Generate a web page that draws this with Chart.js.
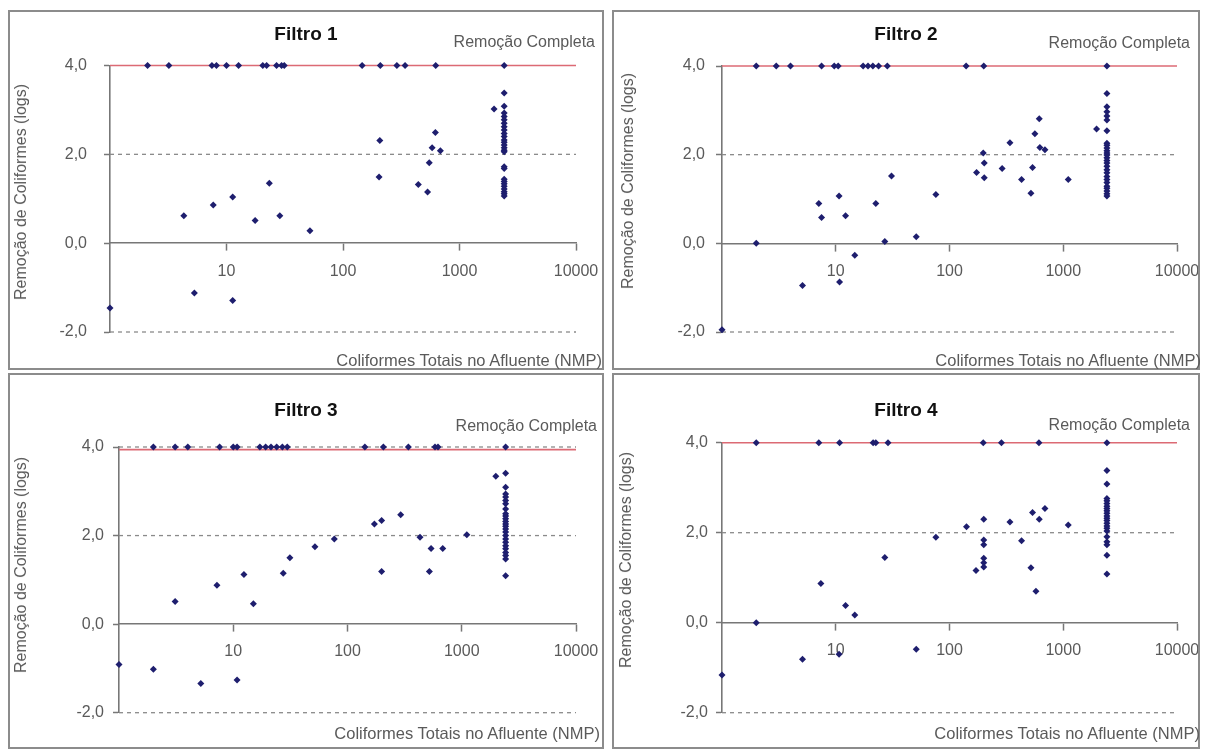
<!DOCTYPE html>
<html><head><meta charset="utf-8">
<script src="https://cdn.jsdelivr.net/npm/chart.js@4.4.0/dist/chart.umd.min.js"></script>
<style>
html,body{margin:0;padding:0;background:#fff;width:1205px;height:752px;overflow:hidden;}
.panel{position:absolute;border:2px solid #8c8c8c;box-sizing:content-box;}
.panel canvas{position:absolute;left:0;top:0;}
.t{position:absolute;font-family:'Liberation Sans',Arial,sans-serif;white-space:nowrap;line-height:1;}
.ttl{font-weight:bold;font-size:19px;color:#111;left:0;right:0;text-align:center;}
.rc{font-size:16px;color:#5a5a5a;}
.xt{font-size:16.5px;color:#5a5a5a;}
.yt{font-size:16px;color:#5a5a5a;transform:translate(-50%,-50%) rotate(-90deg);}
</style></head>
<body>
<div class="panel" style="left:8px;top:10px;width:592px;height:356px">
  <canvas id="c1" width="592" height="356"></canvas>
  <div class="t ttl" style="top:12px">Filtro 1</div>
  <div class="t rc" style="top:22px;right:7px">Remoção Completa</div>
  <div class="t xt" style="top:340px;right:0px">Coliformes Totais no Afluente (NMP)</div>
  <div class="t yt" style="left:11px;top:180px">Remoção de Coliformes (logs)</div>
</div>
<div class="panel" style="left:612px;top:10px;width:584px;height:356px">
  <canvas id="c2" width="584" height="356"></canvas>
  <div class="t ttl" style="top:12px">Filtro 2</div>
  <div class="t rc" style="top:23px;right:8px">Remoção Completa</div>
  <div class="t xt" style="top:340px;right:-3px">Coliformes Totais no Afluente (NMP)</div>
  <div class="t yt" style="left:14px;top:169px">Remoção de Coliformes (logs)</div>
</div>
<div class="panel" style="left:8px;top:373px;width:592px;height:372px">
  <canvas id="c3" width="592" height="372"></canvas>
  <div class="t ttl" style="top:25px">Filtro 3</div>
  <div class="t rc" style="top:43px;right:5px">Remoção Completa</div>
  <div class="t xt" style="top:350px;right:2px">Coliformes Totais no Afluente (NMP)</div>
  <div class="t yt" style="left:11px;top:190px">Remoção de Coliformes (logs)</div>
</div>
<div class="panel" style="left:612px;top:373px;width:584px;height:372px">
  <canvas id="c4" width="584" height="372"></canvas>
  <div class="t ttl" style="top:25px">Filtro 4</div>
  <div class="t rc" style="top:42px;right:8px">Remoção Completa</div>
  <div class="t xt" style="top:350px;right:-2px">Coliformes Totais no Afluente (NMP)</div>
  <div class="t yt" style="left:12px;top:185px">Remoção de Coliformes (logs)</div>
</div>
<script>
// ---- Data (NMP afluente vs log removal) ----
const X_TICKS = [10, 100, 1000, 10000];
const Y_TICKS = [-2, 0, 2, 4];
const X_MIN = 1, X_MAX = 10000;

const f1X = [2.1,3.2,7.5,8.2,10,12.7,20.5,22.1,26.9,29.7,31.3,146,209,290,341,625,2420,
  1,4.3,5.3,7.7,11.3,11.3,17.6,23.3,28.7,52,207,204,443,532,550,582,621,685,1980,
  2420,2420,2420,2420,2420,2420,2420,2420,2420,2420,2420,2420,2420,2420,2420,2420,2420,2420,2420,2420,2420,2420,2420,2420,2420,2420];
const f1Y = [4,4,4,4,4,4,4,4,4,4,4,4,4,4,4,4,4,
  -1.46,0.62,-1.12,0.86,1.04,-1.29,0.51,1.35,0.62,0.28,2.31,1.49,1.32,1.15,1.81,2.15,2.49,2.08,3.02,
  3.38,3.08,2.93,2.85,2.78,2.70,2.62,2.55,2.47,2.40,2.32,2.27,2.21,2.15,2.09,2.06,1.72,1.68,1.44,1.39,1.34,1.28,1.22,1.16,1.11,1.06];

const f2X = [2,3,4,7.5,9.7,10.5,17.4,19.2,21.2,23.8,28.4,140,200,2420,
  1,2,5.1,7.1,7.5,10.7,10.8,12.2,14.7,22.5,27,30.9,51,75.9,173,198,202,202,290,340,430,520,537,563,615,623,690,1107,1963,
  2420,2420,2420,2420,2420,2420,2420,2420,2420,2420,2420,2420,2420,2420,2420,2420,2420,2420,2420,2420,2420,2420,2420,2420,2420,2420];
const f2Y = [4,4,4,4,4,4,4,4,4,4,4,4,4,4,
  -1.95,0,-0.95,0.90,0.58,1.07,-0.87,0.62,-0.27,0.90,0.04,1.52,0.15,1.10,1.60,2.04,1.81,1.48,1.69,2.27,1.44,1.13,1.71,2.47,2.81,2.16,2.11,1.44,2.58,
  3.38,3.08,2.97,2.87,2.78,2.54,2.26,2.21,2.15,2.09,2.04,1.99,1.93,1.87,1.81,1.74,1.66,1.59,1.51,1.44,1.37,1.29,1.24,1.18,1.12,1.07];

const f3X = [2,3.1,4,7.6,10,10.8,17.1,19.2,21.4,24,26.9,29.7,142,206,341,583,620,2420,
  1,2,3.1,5.2,7.2,10.8,12.4,15,27.4,31.3,51.9,76.7,172,199,199,292,431,521,539,682,1107,1986,
  2420,2420,2420,2420,2420,2420,2420,2420,2420,2420,2420,2420,2420,2420,2420,2420,2420,2420,2420,2420,2420,2420,2420,2420];
const f3Y = [4,4,4,4,4,4,4,4,4,4,4,4,4,4,4,4,4,4,
  -0.91,-1.02,0.51,-1.34,0.88,-1.26,1.12,0.46,1.15,1.50,1.75,1.92,2.26,2.34,1.19,2.47,1.96,1.19,1.71,1.71,2.02,3.34,
  3.41,3.09,2.94,2.87,2.79,2.72,2.60,2.49,2.44,2.38,2.32,2.26,2.21,2.15,2.08,2.00,1.92,1.85,1.77,1.70,1.62,1.55,1.47,1.09];

const f4X = [2,7.1,10.8,21.3,22.5,28.8,198,286,611,2420,
  1,2,5.1,7.4,10.7,12.2,14.7,27,51,75.9,141,171,200,200,200,200,200,200,340,430,520,537,575,615,690,1107,
  2420,2420,2420,2420,2420,2420,2420,2420,2420,2420,2420,2420,2420,2420,2420,2420,2420,2420,2420,2420,2420];
const f4Y = [4,4,4,4,4,4,4,4,4,4,
  -1.16,0,-0.81,0.87,-0.70,0.38,0.17,1.45,-0.59,1.90,2.13,1.16,2.30,1.84,1.73,1.43,1.33,1.24,2.24,1.82,1.22,2.45,0.70,2.30,2.54,2.17,
  3.38,3.08,2.76,2.71,2.65,2.59,2.54,2.49,2.43,2.37,2.32,2.27,2.21,2.15,2.10,2.04,1.91,1.80,1.73,1.50,1.08];

// reference lines
const redLineY = [4, 4, 3.94, 4];
const dashedLines = [[2, -2], [2, -2], [4, 2, -2], [2, -2]];

const FONT = "'Liberation Sans', Arial, sans-serif";

function makePanel(id, xs, ys, redY, dashY, o) {
  const pts = xs.map((x, i) => ({x: x, y: ys[i]}));
  const datasets = [
    {type: 'scatter', data: pts, pointStyle: 'rectRot', pointRadius: 3.5, pointBorderWidth: 0,
     backgroundColor: '#1e1e6e', borderColor: '#1e1e6e', clip: false, order: 0},
    {type: 'line', data: [{x: X_MIN, y: redY}, {x: X_MAX, y: redY}], borderColor: '#dc6a74',
     borderWidth: 1.6, pointRadius: 0, clip: false, order: 1}
  ];
  dashY.forEach(v => datasets.push({type: 'line', data: [{x: X_MIN, y: v}, {x: X_MAX, y: v}],
    borderColor: '#8a8a8a', borderWidth: 1.3, borderDash: [4, 4], pointRadius: 0, clip: false, order: 2}));
  new Chart(document.getElementById(id), {
    type: 'scatter',
    data: {datasets: datasets},
    options: {
      responsive: false, animation: false, events: [],
      layout: {padding: {left: 0, top: o.top, right: o.right, bottom: o.bottom}},
      plugins: {legend: {display: false}, tooltip: {enabled: false}},
      scales: {
        x: {type: 'logarithmic', min: X_MIN, max: X_MAX, position: {y: 0},
          afterBuildTicks: ax => { ax.ticks = X_TICKS.map(v => ({value: v})); },
          afterFit: ax => { ax.height = 0; ax.paddingLeft = 0; ax.paddingRight = 0; },
          ticks: {autoSkip: false, maxRotation: 0, padding: o.xPad, color: '#5a5a5a',
            font: {family: FONT, size: 16}, callback: v => String(v)},
          grid: {drawOnChartArea: false, drawTicks: true, tickLength: 7, tickColor: '#777', tickWidth: 1.5},
          border: {display: true, color: '#777', width: 1.6}},
        y: {type: 'linear', min: -2, max: 4, position: 'left',
          afterBuildTicks: ax => { ax.ticks = Y_TICKS.map(v => ({value: v})); },
          afterFit: ax => { ax.width = o.yW; ax.paddingTop = 0; ax.paddingBottom = 0; },
          ticks: {padding: o.yPad, color: '#5a5a5a', font: {family: FONT, size: 16},
            callback: v => Number(v).toFixed(1).replace('.', ',')},
          grid: {drawOnChartArea: false, drawTicks: true, tickLength: 6, tickColor: '#777', tickWidth: 1.5},
          border: {display: true, color: '#777', width: 1.6}}
      }
    }
  });
}

makePanel('c1', f1X, f1Y, redLineY[0], dashedLines[0], {yW: 100, top: 53.5, right: 26, bottom: 36, xPad: 12, yPad: 17});
makePanel('c2', f2X, f2Y, redLineY[1], dashedLines[1], {yW: 108, top: 54, right: 21, bottom: 36, xPad: 12, yPad: 11});
makePanel('c3', f3X, f3Y, redLineY[2], dashedLines[2], {yW: 109, top: 72, right: 26, bottom: 34.3, xPad: 11, yPad: 9});
makePanel('c4', f4X, f4Y, redLineY[3], dashedLines[3], {yW: 108, top: 67.7, right: 21, bottom: 34.3, xPad: 11, yPad: 8});
</script>
</body></html>
